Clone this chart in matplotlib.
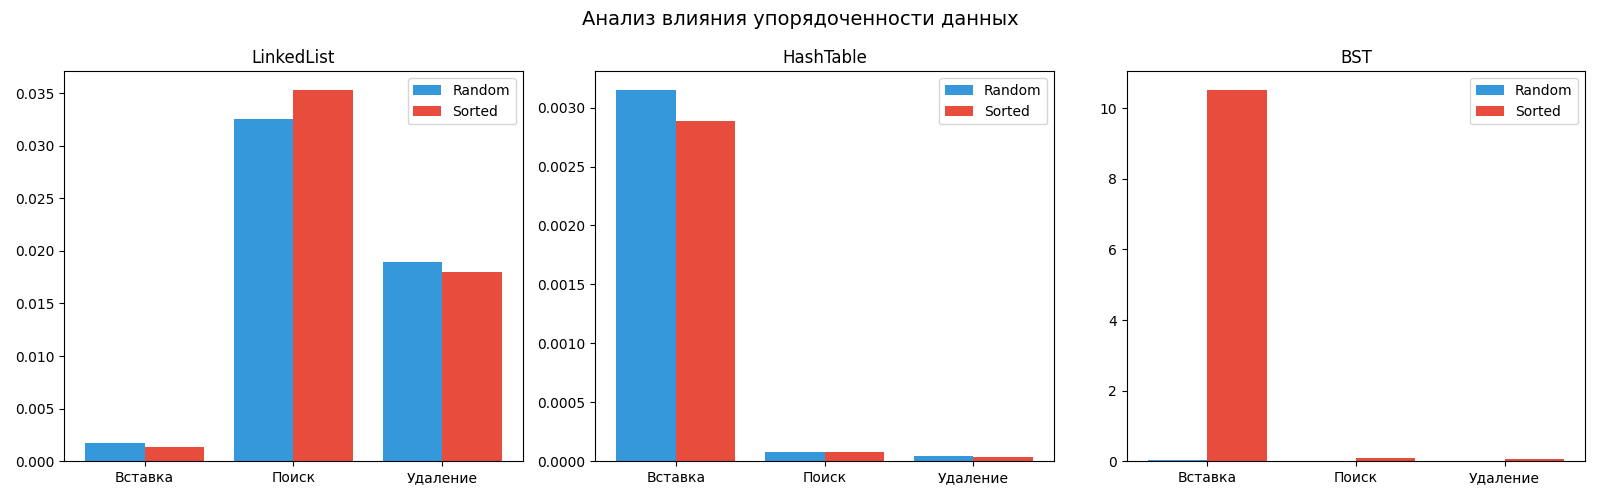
import matplotlib.pyplot as plt
import numpy as np

operations = ["Вставка", "Поиск", "Удаление"]
structures = ["LinkedList", "HashTable", "BST"]

# время (сек) для случайных и отсортированных данных
linkedlist_random = [0.00175, 0.0325, 0.0189]
linkedlist_sorted = [0.00136, 0.0353, 0.0180]
hashtable_random = [0.00315, 0.00008, 0.000045]
hashtable_sorted = [0.00289, 0.000078, 0.000036]
bst_random = [0.04, 0.001, 0.001]
bst_sorted = [10.52, 0.1, 0.07]

random_data = [linkedlist_random, hashtable_random, bst_random]
sorted_data = [linkedlist_sorted, hashtable_sorted, bst_sorted]

x = np.arange(len(operations))
width = 0.4

fig, axes = plt.subplots(1, 3, figsize=(16, 5))
fig.suptitle("Анализ влияния упорядоченности данных", fontsize=14)

for ax, name, r, s in zip(axes, structures, random_data, sorted_data):
    ax.bar(x - width / 2, r, width, label="Random", color="#3498db")
    ax.bar(x + width / 2, s, width, label="Sorted", color="#e74c3c")
    ax.set_title(name)
    ax.set_xticks(x)
    ax.set_xticklabels(operations)
    ax.legend(loc="upper right")

plt.tight_layout()
plt.savefig("out.png", dpi=100)
